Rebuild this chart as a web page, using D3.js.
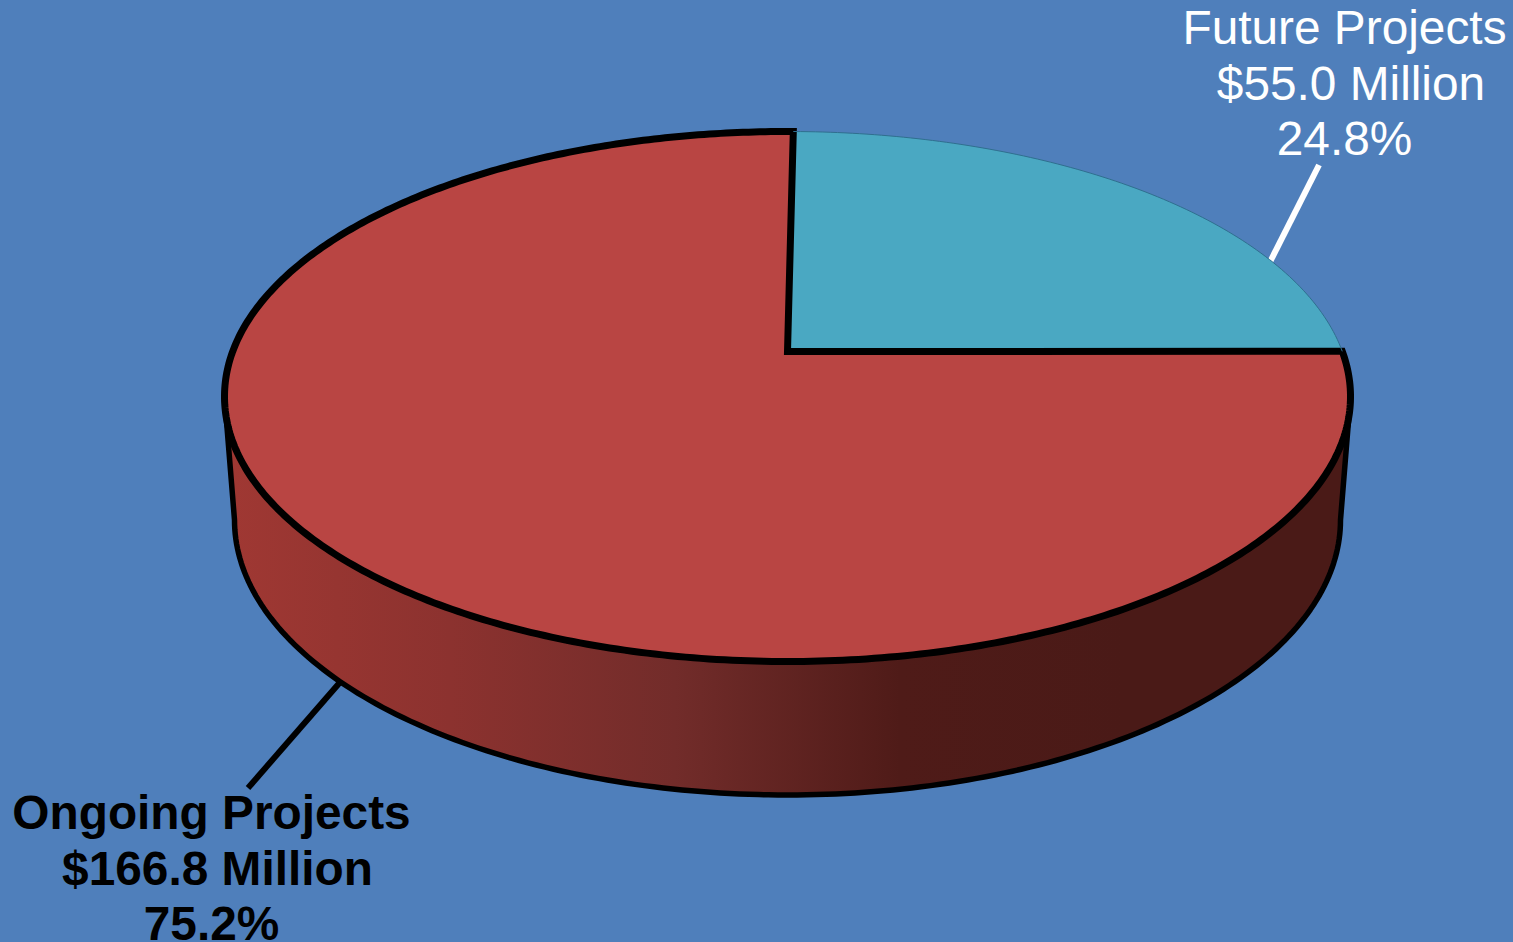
<!DOCTYPE html>
<html><head><meta charset="utf-8">
<script src="https://cdn.jsdelivr.net/npm/d3@7/dist/d3.min.js"></script>
<style>html,body{margin:0;padding:0;background:#4f7fbb;overflow:hidden}svg{display:block}text{font-family:"Liberation Sans",Arial,sans-serif}</style>
</head><body><svg id="c" width="1513" height="942"></svg>
<script>
const categories = ["Future Projects", "Ongoing Projects"];
const amounts = [55.0, 166.8];
const amountLabels = ["$55.0 Million", "$166.8 Million"];
const percentLabels = ["24.8%", "75.2%"];
const topColors = ["#4aa8c2", "#b94543"];
const sideStops = ["#a03833", "#8c322f", "#722c2a", "#4f1b18", "#4a1a17", "#4a1a17"];

const svg = d3.select("#c");
const topE = {cx: 787.5, cy: 396.5, rx: 563, ry: 265};
const botE = {cx: 787.5, cy: 520, rx: 553, ry: 275};
const tilt = 0.17;
const rotation = 0.7 * Math.PI / 180;

// perspective disk -> ellipse
function project(angle, r = 1) {
  const u = r * Math.sin(angle), v = r * Math.cos(angle);
  const d = 1 + tilt * v;
  const up = u * Math.sqrt(1 - tilt * tilt) / d;
  const vp = (v + tilt) / d;
  return [topE.cx + topE.rx * up, topE.cy - topE.ry * vp];
}
const pie = d3.pie().sort(null).value(d => d).startAngle(rotation).endAngle(rotation + 2 * Math.PI);
const arcs = pie(amounts);
const line = d3.line();
const ell = (e, a) => [e.cx + e.rx * Math.cos(a), e.cy + e.ry * Math.sin(a)];

const defs = svg.append("defs");
const grad = defs.append("linearGradient").attr("id", "side").attr("gradientUnits", "userSpaceOnUse")
  .attr("x1", 225).attr("x2", 1350).attr("y1", 0).attr("y2", 0);
const stopScale = d3.scaleLinear().domain([0, sideStops.length - 1]).range([0, 1]);
sideStops.forEach((c, i) => grad.append("stop").attr("offset", stopScale(i)).attr("stop-color", c));

// leader lines (beneath the pie)
const leaders = [[[1319, 165], [1270, 262]], [[342, 680], [248, 788]]];
const leaderColors = ["#fff", "#000"];
leaders.forEach((l, i) => svg.append("path").attr("d", line(l)).attr("stroke", leaderColors[i]).attr("stroke-width", 6).attr("fill", "none"));

// side wall
const half = d3.range(0, 181).map(d => d * Math.PI / 180);
const sidePts = half.map(a => ell(topE, a)).concat(half.slice().reverse().map(a => ell(botE, a)));
svg.append("path").attr("d", line(sidePts) + "Z").attr("fill", "url(#side)")
  .attr("stroke", "#000").attr("stroke-width", 5.5).attr("stroke-linejoin", "round");

// top slices
arcs.forEach((a, i) => {
  const n = Math.ceil((a.endAngle - a.startAngle) * 90);
  const pts = d3.range(n + 1).map(k => project(a.startAngle + (a.endAngle - a.startAngle) * k / n));
  const apex = project(0, 0);
  svg.append("path").attr("d", line([apex, ...pts]) + "Z").attr("fill", topColors[i]);
});
// outline of ongoing slice over the teal slice
{
  const a = arcs[1];
  const n = 400;
  const pts = d3.range(n + 1).map(k => project(a.startAngle + (a.endAngle - a.startAngle) * k / n));
  svg.append("path").attr("d", line([project(0, 0), ...pts]) + "Z").attr("fill", "none")
    .attr("stroke", "#000").attr("stroke-width", 7).attr("stroke-linejoin", "miter").attr("stroke-miterlimit", 3);
  const b = arcs[0];
  const pb = d3.range(101).map(k => project(b.startAngle + (b.endAngle - b.startAngle) * k / 100));
  svg.append("path").attr("d", line(pb)).attr("fill", "none").attr("stroke", "#2f6f8f").attr("stroke-width", 1);
}

// labels
const anchors = [{x: 1344.5, y: 44}, {x: 211.5, y: 829}];
const xShift = [[0, 6.5, 0], [0, 6, 0]];
categories.forEach((c, i) => {
  const t = svg.append("text").attr("text-anchor", "middle").attr("font-size", 47.8)
    .attr("fill", i === 0 ? "#fff" : "#000").attr("font-weight", i === 0 ? 400 : 700);
  [c, amountLabels[i], percentLabels[i]].forEach((s, j) =>
    t.append("tspan").attr("x", anchors[i].x + xShift[i][j]).attr("y", anchors[i].y + j * 55.5).text(s));
});
</script></body></html>
